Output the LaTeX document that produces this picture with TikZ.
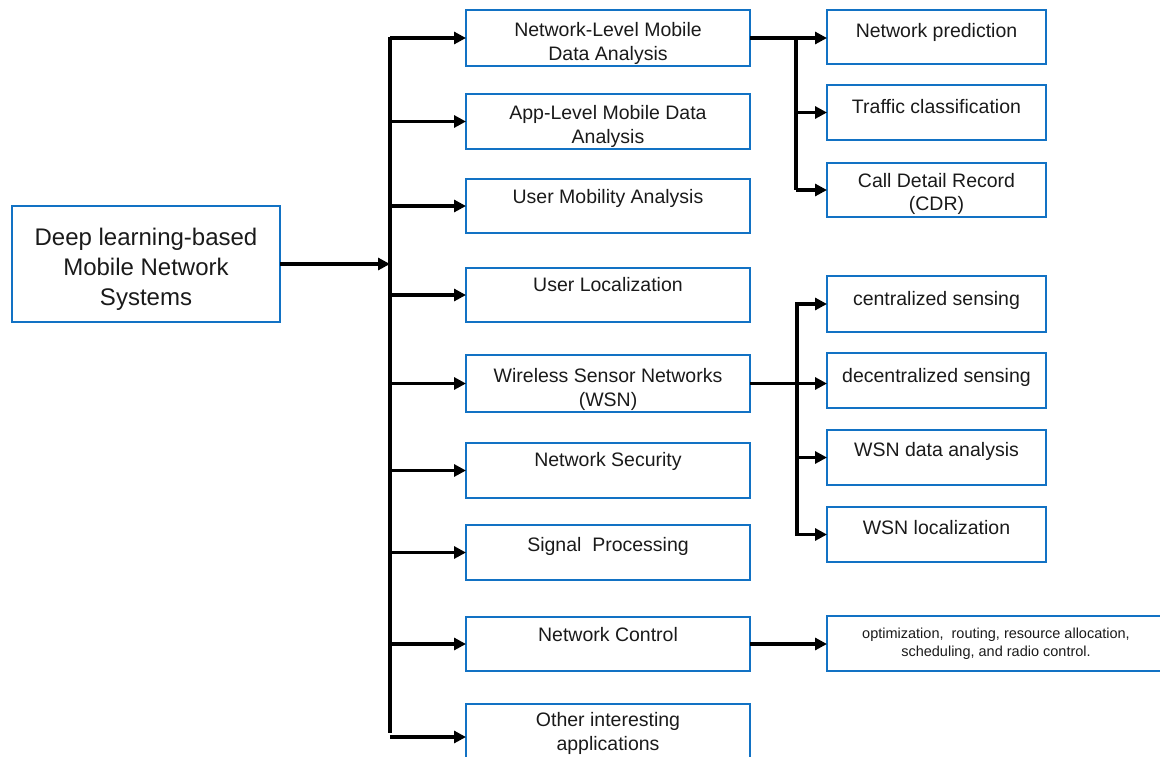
\documentclass[tikz,border=0pt]{standalone}
\usepackage{fontspec}
\setmainfont{Liberation Sans}
\usetikzlibrary{arrows.meta}
\definecolor{boxblue}{RGB}{18,114,196}
\definecolor{txt}{RGB}{26,26,26}
\tikzset{
  box/.style={draw=boxblue, line width=2.6pt, inner sep=0pt, outer sep=0pt, text=txt},
  midbox/.style={box, minimum width=284pt},
  rbox/.style={box, minimum width=219pt},
  mlbl/.style={anchor=north, inner sep=0pt, align=center, text=txt, font=\fontsize{19.5}{24}\selectfont},
  rlbl/.style={anchor=north, inner sep=0pt, align=center, text=txt, font=\fontsize{19.5}{23}\selectfont},
  conn/.style={line width=3.1pt, black},
  arr/.style={conn, -{Triangle[length=12pt,width=12pt]}},
}
\begin{document}
\begin{tikzpicture}[x=1pt,y=-1pt]
\clip (0,0) rectangle (1160,756);
% root
\node[box, minimum width=268pt, minimum height=116pt,
      label={[inner sep=0pt, align=center, text=txt, font=\fontsize{24}{30}\selectfont, yshift=-5pt]center:{Deep learning-based\\Mobile Network\\Systems}}]
      (root) at (146,264) {};
% middle column
\node[midbox, minimum height=56pt, label={[mlbl,yshift=-12pt]north:{Network-Level Mobile\\Data Analysis}}] (m1) at (608,38) {};
\node[midbox, minimum height=55pt, label={[mlbl,yshift=-11pt]north:{App-Level Mobile Data\\Analysis}}] (m2) at (608,121.5) {};
\node[midbox, minimum height=54pt, label={[mlbl,yshift=-10pt]north:{User Mobility Analysis}}] (m3) at (608,206) {};
\node[midbox, minimum height=54pt, label={[mlbl,yshift=-9pt]north:{User Localization}}] (m4) at (608,295) {};
\node[midbox, minimum height=57pt, label={[mlbl,yshift=-13pt]north:{Wireless Sensor Networks\\(WSN)}}] (m5) at (608,383.5) {};
\node[midbox, minimum height=55pt, label={[mlbl,yshift=-9pt]north:{Network Security}}] (m6) at (608,470.5) {};
\node[midbox, minimum height=55pt, label={[mlbl,yshift=-12pt]north:{Signal\ \ Processing}}] (m7) at (608,552.5) {};
\node[midbox, minimum height=54pt, label={[mlbl,yshift=-10pt]north:{Network Control}}] (m8) at (608,644) {};
\node[midbox, minimum height=66pt, label={[mlbl,yshift=-8pt]north:{Other interesting\\applications}}] (m9) at (608,737) {};
% right column
\node[rbox, minimum height=54pt, label={[rlbl,yshift=-13pt]north:{Network prediction}}] (r1) at (936.5,37) {};
\node[rbox, minimum height=55pt, label={[rlbl,yshift=-14pt]north:{Traffic classification}}] (r2) at (936.5,112.5) {};
\node[rbox, minimum height=54pt, label={[rlbl,yshift=-10pt]north:{Call Detail Record\\(CDR)}}] (r3) at (936.5,190) {};
\node[rbox, minimum height=56pt, label={[rlbl,yshift=-15pt]north:{centralized sensing}}] (r4) at (936.5,304) {};
\node[rbox, minimum height=55pt, label={[rlbl,yshift=-15pt]north:{decentralized sensing}}] (r5) at (936.5,380.5) {};
\node[rbox, minimum height=55pt, label={[rlbl,yshift=-12pt]north:{WSN data analysis}}] (r6) at (936.5,457.5) {};
\node[rbox, minimum height=55pt, label={[rlbl,yshift=-13pt]north:{WSN localization}}] (r7) at (936.5,534.5) {};
\node[box, minimum width=338pt, minimum height=55pt, align=center,
      font=\fontsize{14.5}{18}\selectfont] (r8) at (996,643.5)
      {optimization,\ \ routing, resource allocation,\\scheduling, and radio control.};
% trunk
\coordinate (t1) at (390,39);
\coordinate (t2) at (390,731);
\draw[conn, line cap=rect] (t1) -- (t2);
\draw[arr] (root.east) -- (root.east -| t1);
\foreach \m in {m1,m2,m3,m4,m5,m6,m7,m8,m9}
  \draw[arr] (t1 |- \m.west) -- (\m.west);
% network-level branch
\coordinate (b1) at (796,0);
\draw[arr] (m1.east) -- (r1.west |- m1.east);
\draw[conn] (b1 |- m1.east) -- (b1 |- r3.west);
\draw[arr] (b1 |- r2.west) -- (r2.west);
\draw[arr] (b1 |- r3.west) -- (r3.west);
% WSN branch
\coordinate (b2) at (797,0);
\draw[arr] (m5.east) -- (r5.west |- m5.east);
\draw[conn, line cap=rect] (b2 |- r4.west) -- (b2 |- r7.west);
\draw[arr] (b2 |- r4.west) -- (r4.west);
\draw[arr] (b2 |- r6.west) -- (r6.west);
\draw[arr] (b2 |- r7.west) -- (r7.west);
% network control
\draw[arr] (m8.east) -- (r8.west |- m8.east);
\end{tikzpicture}
\end{document}
